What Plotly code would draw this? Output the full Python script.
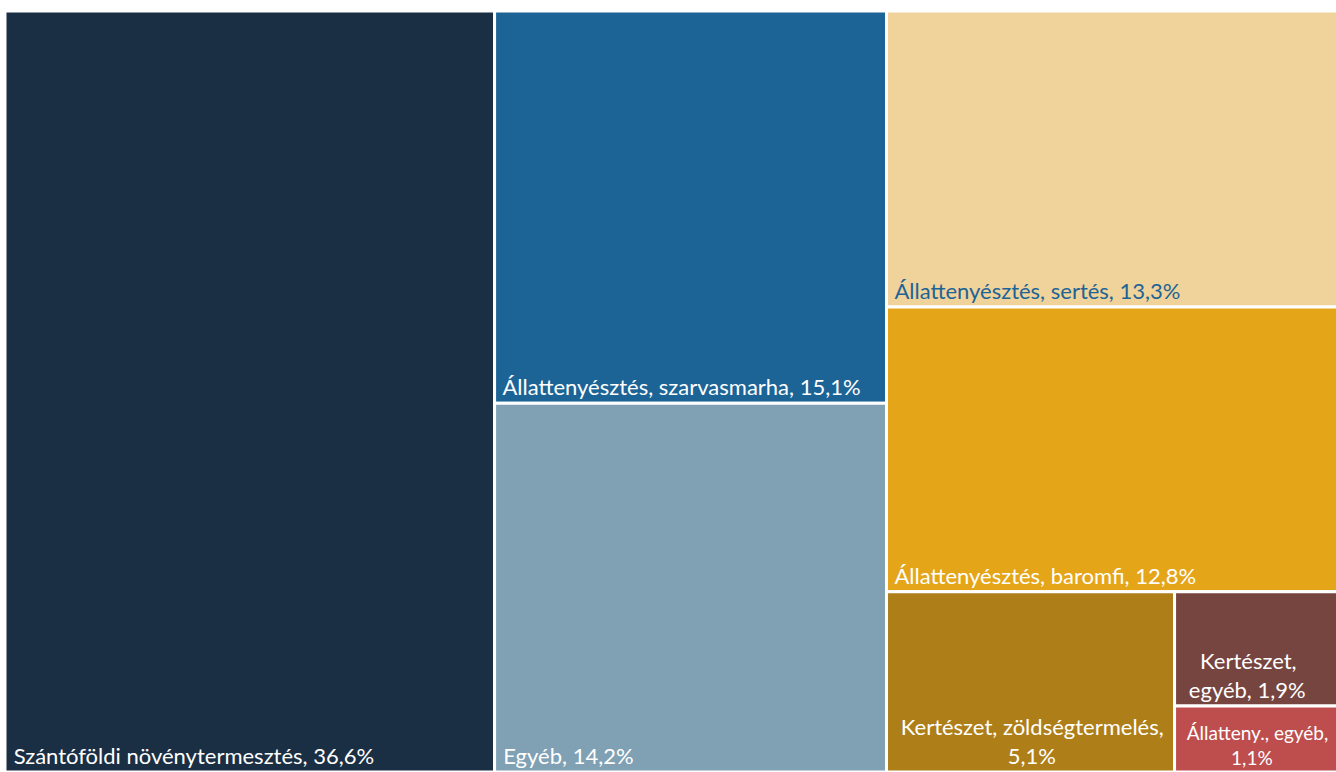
import plotly.graph_objects as go

# sector shares of agricultural output, %
labels = [
    "Szántóföldi növénytermesztés",
    "Állattenyésztés, szarvasmarha",
    "Egyéb",
    "Állattenyésztés, sertés",
    "Állattenyésztés, baromfi",
    "Kertészet, zöldségtermelés",
    "Kertészet, egyéb",
    "Állatteny., egyéb",
]
shares = [36.6, 15.1, 14.2, 13.3, 12.8, 5.1, 1.9, 1.1]

NB = "\u00a0"
# how the label is shown in its tile; small tiles get wrapped and roughly centred
shown = [
    NB + "Szántóföldi növénytermesztés, {}",
    NB + "Állattenyésztés, szarvasmarha, {}",
    NB + "Egyéb, {}",
    NB + "Állattenyésztés, sertés, {}",
    NB + "Állattenyésztés, baromfi, {}",
    NB * 2 + "Kertészet, zöldségtermelés,<br>" + NB * 21 + "{}",
    NB * 4 + "Kertészet,<br>" + NB * 2 + "egyéb, {}",
    NB * 2 + "Állatteny., egyéb,<br>" + NB * 11 + "{}",
]
colors = ["#1b2f44", "#1d6496", "#80a1b3", "#f0d29b", "#e5a519", "#ae7f19", "#774540", "#be4e4e"]
text_colors = ["white", "white", "white", "#1d6496", "white", "white", "white", "white"]
text_sizes = [22, 22, 22, 22, 22, 22, 22, 19]

texts = [s.format(f"{v:.1f}%".replace(".", ",")) for s, v in zip(shown, shares)]

fig = go.Figure(go.Treemap(
    labels=["root"] + labels,
    parents=[""] + ["root"] * len(labels),
    values=[sum(shares)] + shares,
    branchvalues="total",
    text=[""] + texts,
    textinfo="text",
    textposition="bottom left",
    textfont=dict(family="Lato", size=[22] + text_sizes, color=["white"] + text_colors),
    marker=dict(colors=["white"] + colors, line=dict(color="white", width=3),
                pad=dict(t=0, l=0, r=0, b=0)),
    tiling=dict(packing="squarify", squarifyratio=1, pad=0),
    pathbar=dict(visible=False),
    sort=True,
    hoverinfo="label+value",
))

# the original is cropped on the right, so the figure runs a bit past the window
fig.update_layout(
    width=1344, height=772,
    margin=dict(l=5, r=0, t=11, b=0),
    paper_bgcolor="white",
)
fig.write_html(
    "out.html",
    config={"displayModeBar": False},
    post_script="document.body.style.margin='0';document.body.style.overflow='hidden';",
)
